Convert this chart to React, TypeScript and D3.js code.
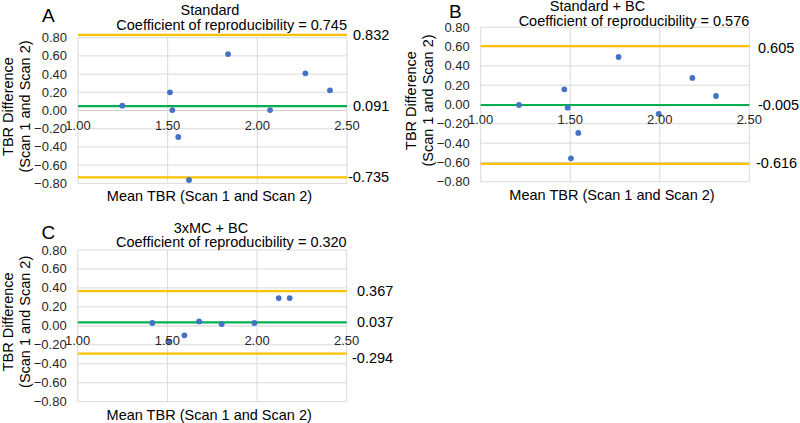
import React from "react";
import * as d3 from "d3";

// ---------- data ----------
const yTicks = [-0.8, -0.6, -0.4, -0.2, 0, 0.2, 0.4, 0.6, 0.8];
const xTicks = [1.0, 1.5, 2.0, 2.5];

const aMeanTBR = [1.247, 1.513, 1.526, 1.837, 2.071, 2.268, 2.405, 1.559, 1.619];
const aDiff = [0.053, 0.2, 0.005, 0.62, 0.005, 0.409, 0.222, -0.291, -0.764];
const aLines = [0.832, 0.048, -0.735];
const aLineLabels = ["0.832", "0.091", "-0.735"];

const bMeanTBR = [1.214, 1.467, 1.486, 1.77, 1.545, 1.504, 1.994, 2.182, 2.314];
const bDiff = [-0.005, 0.157, -0.033, 0.492, -0.295, -0.558, -0.098, 0.275, 0.088];
const bLines = [0.605, -0.005, -0.616];
const bLineLabels = ["0.605", "-0.005", "-0.616"];

const cMeanTBR = [1.416, 1.505, 1.595, 1.677, 1.803, 1.985, 2.121, 2.182];
const cDiff = [0.03, -0.164, -0.1, 0.047, 0.019, 0.03, 0.293, 0.293];
const cLines = [0.367, 0.037, -0.294];
const cLineLabels = ["0.367", "0.037", "-0.294"];

const FONT = "'Liberation Sans', Arial, sans-serif";
const ORANGE = "#FFC000";
const GREEN = "#00B050";
const DOT = "#4472C4";
const GRID = "#d9d9d9";

type PanelProps = {
  letter: string;
  title: string;
  coef: string;
  xs: number[];
  ys: number[];
  lines: number[];
  lineLabels: string[];
  left: number;
  right: number;
  top: number;
  bottom: number;
  titleX: number;
  titleY: number;
  coefY: number;
  letterX: number;
  letterY: number;
  labelXs: number[];
  labelDy: number[];
};

function Panel(p: PanelProps) {
  const x = d3.scaleLinear().domain([1, 2.5]).range([p.left, p.right]);
  const y = d3.scaleLinear().domain([-0.8, 0.8]).range([p.bottom, p.top]);
  const fmt = d3.format(".2f");
  const lineColors = [ORANGE, GREEN, ORANGE];
  const midY = (p.top + p.bottom) / 2 - 4;
  return (
    <g fontFamily={FONT}>
      {yTicks.map((t) => (
        <line key={"h" + t} x1={p.left} x2={p.right} y1={y(t)} y2={y(t)} stroke={t === 0 ? "#cfcfcf" : GRID} strokeWidth={1} />
      ))}
      {xTicks.map((t) => (
        <line key={"v" + t} x1={x(t)} x2={x(t)} y1={p.top} y2={p.bottom} stroke={GRID} strokeWidth={1} />
      ))}
      {p.lines.map((v, i) => (
        <line key={"l" + i} x1={p.left} x2={p.right} y1={y(v)} y2={y(v)} stroke={lineColors[i]} strokeWidth={2.2} />
      ))}
      {p.xs.map((xv, i) => (
        <circle key={"d" + i} cx={x(xv)} cy={y(p.ys[i])} r={2.9} fill={DOT} />
      ))}
      {yTicks.map((t) => (
        <text key={"yt" + t} x={p.left - 11} y={y(t)} textAnchor="end" dominantBaseline="central" fontSize={13} fill="#262626">
          {fmt(t)}
        </text>
      ))}
      {xTicks.map((t) => (
        <text key={"xt" + t} x={x(t)} y={y(0) + 15} textAnchor="middle" dominantBaseline="central" fontSize={13} fill="#262626">
          {fmt(t)}
        </text>
      ))}
      {p.lines.map((v, i) => (
        <text key={"rl" + i} x={p.labelXs[i]} y={y(v) + p.labelDy[i]} dominantBaseline="central" fontSize={14.5} fill="#000">
          {p.lineLabels[i]}
        </text>
      ))}
      <text x={p.titleX} y={p.titleY} textAnchor="middle" dominantBaseline="central" fontSize={14.5} fill="#000">
        {p.title}
      </text>
      <text x={p.right} y={p.coefY} textAnchor="end" dominantBaseline="central" fontSize={14.5} fill="#000">
        {p.coef}
      </text>
      <text x={p.letterX} y={p.letterY} dominantBaseline="central" fontSize={19} fill="#000">
        {p.letter}
      </text>
      <text x={(p.left + p.right) / 2 - 3} y={p.bottom + 13} textAnchor="middle" dominantBaseline="central" fontSize={14.5} fill="#000">
        Mean TBR (Scan 1 and Scan 2)
      </text>
      <g transform={`translate(${p.left - 70},${midY}) rotate(-90)`}>
        <text x={0} y={0} textAnchor="middle" dominantBaseline="central" fontSize={14.5} fill="#000">
          TBR Difference
        </text>
        <text x={0} y={17} textAnchor="middle" dominantBaseline="central" fontSize={14.5} fill="#000">
          (Scan 1 and Scan 2)
        </text>
      </g>
    </g>
  );
}

export default function App() {
  return (
    <svg width={800} height={423} style={{ position: "absolute", left: 0, top: 0, background: "#fff" }}>
      <rect width={800} height={423} fill="#fff" />
      <Panel
        letter="A"
        title="Standard"
        coef="Coefficient of reproducibility = 0.745"
        xs={aMeanTBR}
        ys={aDiff}
        lines={aLines}
        lineLabels={aLineLabels}
        left={78}
        right={347}
        top={37.7}
        bottom={183.3}
        titleX={210}
        titleY={9.5}
        coefY={25}
        letterX={42}
        letterY={15}
        labelXs={[353, 353, 348]}
        labelDy={[0, 0, 0]}
      />
      <Panel
        letter="B"
        title="Standard + BC"
        coef="Coefficient of reproducibility = 0.576"
        xs={bMeanTBR}
        ys={bDiff}
        lines={bLines}
        lineLabels={bLineLabels}
        left={480.7}
        right={749.3}
        top={27.3}
        bottom={181.7}
        titleX={597.5}
        titleY={5.5}
        coefY={20.7}
        letterX={449}
        letterY={11.7}
        labelXs={[758, 758, 756]}
        labelDy={[2, 0, -1]}
      />
      <Panel
        letter="C"
        title="3xMC + BC"
        coef="Coefficient of reproducibility = 0.320"
        xs={cMeanTBR}
        ys={cDiff}
        lines={cLines}
        lineLabels={cLineLabels}
        left={77.7}
        right={346.7}
        top={250}
        bottom={401.7}
        titleX={211}
        titleY={228.3}
        coefY={242.3}
        letterX={41.5}
        letterY={232.5}
        labelXs={[357, 357, 352]}
        labelDy={[0, 0, 4]}
      />
    </svg>
  );
}
